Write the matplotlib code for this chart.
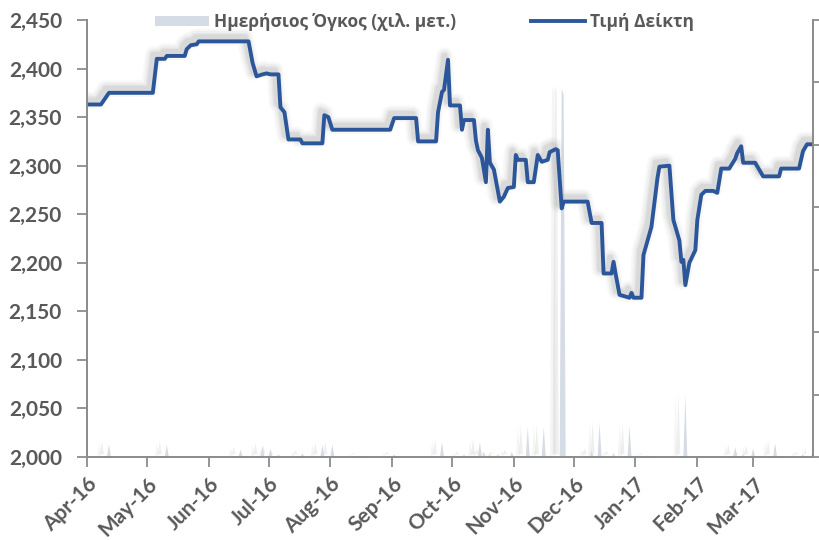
import matplotlib
matplotlib.use('Agg')
import matplotlib.pyplot as plt
import matplotlib.dates as mdates
import matplotlib.patheffects as pe
import matplotlib.ticker as mticker
import pandas as pd
from matplotlib.patches import Patch
from matplotlib.lines import Line2D

plt.rcParams['font.family'] = ['Lato', 'Open Sans', 'DejaVu Sans']
plt.rcParams['font.weight'] = 'bold'

# ---- data ----
price_dates = [
    '2016-04-01', '2016-04-08', '2016-04-12', '2016-05-04', '2016-05-06', '2016-05-10',
    '2016-05-11', '2016-05-20', '2016-05-21', '2016-05-23', '2016-05-26', '2016-05-27',
    '2016-06-21', '2016-06-23', '2016-06-25', '2016-06-28', '2016-06-30', '2016-07-02',
    '2016-07-06', '2016-07-07', '2016-07-09', '2016-07-11', '2016-07-17', '2016-07-18',
    '2016-07-28', '2016-07-29', '2016-07-31', '2016-08-02', '2016-08-31', '2016-09-02',
    '2016-09-13', '2016-09-14', '2016-09-23', '2016-09-24', '2016-09-26', '2016-09-27',
    '2016-09-29', '2016-09-30', '2016-10-05', '2016-10-06', '2016-10-07', '2016-10-12',
    '2016-10-13', '2016-10-14', '2016-10-16', '2016-10-18', '2016-10-19', '2016-10-20',
    '2016-10-22', '2016-10-25', '2016-10-27', '2016-10-29', '2016-11-01', '2016-11-02',
    '2016-11-03', '2016-11-07', '2016-11-08', '2016-11-11', '2016-11-13', '2016-11-15',
    '2016-11-18', '2016-11-19', '2016-11-22', '2016-11-23', '2016-11-25', '2016-11-26',
    '2016-12-08', '2016-12-10', '2016-12-15', '2016-12-16', '2016-12-20', '2016-12-21',
    '2016-12-22', '2016-12-24', '2016-12-29', '2016-12-30', '2016-12-31', '2017-01-04',
    '2017-01-05', '2017-01-09', '2017-01-12', '2017-01-13', '2017-01-18', '2017-01-20',
    '2017-01-23', '2017-01-24', '2017-01-25', '2017-01-26', '2017-01-28', '2017-01-31',
    '2017-02-01', '2017-02-03', '2017-02-05', '2017-02-09', '2017-02-11', '2017-02-13',
    '2017-02-17', '2017-02-20', '2017-02-21', '2017-02-23', '2017-02-24', '2017-03-02',
    '2017-03-06', '2017-03-14', '2017-03-15', '2017-03-24', '2017-03-26', '2017-03-28',
    '2017-03-31']
price_values = [
    2363, 2363, 2375, 2375, 2410, 2410,
    2413, 2413, 2420, 2424, 2425, 2428,
    2428, 2406, 2392, 2394, 2395, 2394,
    2394, 2360, 2355, 2327, 2327, 2323,
    2323, 2352, 2350, 2337, 2337, 2349,
    2349, 2325, 2325, 2355, 2376, 2378,
    2409, 2362, 2362, 2337, 2347, 2347,
    2326, 2316, 2308, 2283, 2337, 2303,
    2296, 2263, 2268, 2277, 2278, 2311,
    2306, 2306, 2283, 2283, 2311, 2304,
    2306, 2314, 2317, 2316, 2256, 2263,
    2263, 2241, 2241, 2189, 2189, 2201,
    2189, 2167, 2164, 2169, 2164, 2164,
    2208, 2237, 2287, 2299, 2300, 2244,
    2223, 2201, 2203, 2177, 2200, 2213,
    2244, 2270, 2274, 2274, 2272, 2297,
    2297, 2307, 2313, 2320, 2303, 2303,
    2289, 2289, 2297, 2297, 2315, 2322,
    2322]

vol_dates = [
    '2016-04-12', '2016-05-11', '2016-06-17', '2016-06-28', '2016-07-02', '2016-07-06',
    '2016-07-18', '2016-07-28', '2016-08-02', '2016-08-16', '2016-09-02', '2016-09-26',
    '2016-10-07', '2016-10-15', '2016-10-17', '2016-10-20', '2016-10-24', '2016-10-31',
    '2016-11-08', '2016-11-16', '2016-11-25', '2016-11-26', '2016-12-10', '2016-12-14',
    '2016-12-21', '2016-12-29', '2017-01-07', '2017-01-26', '2017-02-20', '2017-02-24',
    '2017-03-01', '2017-03-12', '2017-03-26', '2017-03-31']
vol_values = [
    10, 10, 6, 9, 7, 2,
    3, 9, 10, 1, 2, 12,
    2, 12, 4, 2, 2, 4,
    24, 24, 295, 290, 5, 27,
    3, 25, 1, 50, 8, 2,
    7, 11, 2, 6]

legend_labels = ['Ημερήσιος Όγκος (χιλ. μετ.)', 'Τιμή Δείκτη']
price_ticks = [2000, 2050, 2100, 2150, 2200, 2250, 2300, 2350, 2400, 2450]
vol_ticks = [0, 50, 100, 150, 200, 250, 300, 350]

# ---- styling ----
LINE_C = '#2B579A'
AREA_C = '#D6DCE5'
TXT_C = '#595959'
AX_C = '#8C8C8C'

fig = plt.figure(figsize=(8.2, 5.4), dpi=100)
ax = fig.add_axes([87/820, 1-457/540, (813-87)/820, (457-20)/540])
ax2 = ax.twinx()
ax.set_zorder(ax2.get_zorder() + 1)
ax.patch.set_visible(False)

pdates = pd.to_datetime(price_dates)
days = pd.date_range('2016-04-01', '2017-03-31', freq='D')
vol = pd.Series(0.0, index=days)
vol.loc[pd.to_datetime(vol_dates)] = vol_values

area = ax2.fill_between(days, vol.values, 0, color=AREA_C, lw=0)
area.set_path_effects([
    pe.SimplePatchShadow(offset=(-5, 2), shadow_rgbFace='#808080', alpha=0.12),
    pe.SimplePatchShadow(offset=(-7, 1), shadow_rgbFace='#808080', alpha=0.08),
    pe.Normal()])

shadow = [pe.SimpleLineShadow(offset=(-2.5, 3), shadow_color='#7f7f7f', alpha=a, linewidth=w)
          for w, a in [(12, 0.05), (9, 0.07), (6, 0.09), (4, 0.1)]]
ax.plot(pdates, price_values, color=LINE_C, lw=2.8, solid_joinstyle='round',
        path_effects=shadow + [pe.Normal()])

ax.set_ylim(2000, 2450)
ax.set_yticks(price_ticks)
ax.yaxis.set_major_formatter(mticker.FuncFormatter(lambda v, p: f'{int(v):,}'))
ax2.set_ylim(0, 350)
ax2.set_yticks(vol_ticks)
ax2.tick_params(axis='y', labelright=False, direction='out', length=6, width=1.3, color=AX_C)

ax.set_xlim(pd.Timestamp('2016-04-01'), pd.Timestamp('2017-03-31'))
ax.xaxis.set_major_locator(mdates.MonthLocator())
ax.xaxis.set_major_formatter(mdates.DateFormatter('%b-%y'))

for a in (ax, ax2):
    a.spines['top'].set_visible(False)
    for s in ('left', 'right', 'bottom'):
        a.spines[s].set_color(AX_C)
        a.spines[s].set_linewidth(1.3)

ax.tick_params(axis='both', direction='out', length=7, width=1.3, color=AX_C,
               labelcolor=TXT_C, labelsize=15)
ax.tick_params(axis='y', pad=11)
ax.tick_params(axis='x', pad=5)
for lab in ax.get_xticklabels():
    lab.set_rotation(45)
    lab.set_ha('right')
    lab.set_rotation_mode('anchor')
    lab.set_fontweight('bold')
for lab in ax.get_yticklabels():
    lab.set_fontweight('bold')

handles = [Patch(facecolor=AREA_C, edgecolor='none'),
           Line2D([0], [0], color=LINE_C, lw=2.8)]
leg = ax.legend(handles, legend_labels, loc='center left',
                bbox_to_anchor=((155-87)/726, (457-22)/437), ncol=2, frameon=False,
                borderpad=0, borderaxespad=0, handlelength=3.1, handleheight=0.55,
                handletextpad=0.3, columnspacing=4.3,
                prop={'family': ['Open Sans', 'DejaVu Sans'], 'weight': 'bold', 'size': 12.5})
for t in leg.get_texts():
    t.set_color(TXT_C)

fig.savefig('out.png', dpi=100)
